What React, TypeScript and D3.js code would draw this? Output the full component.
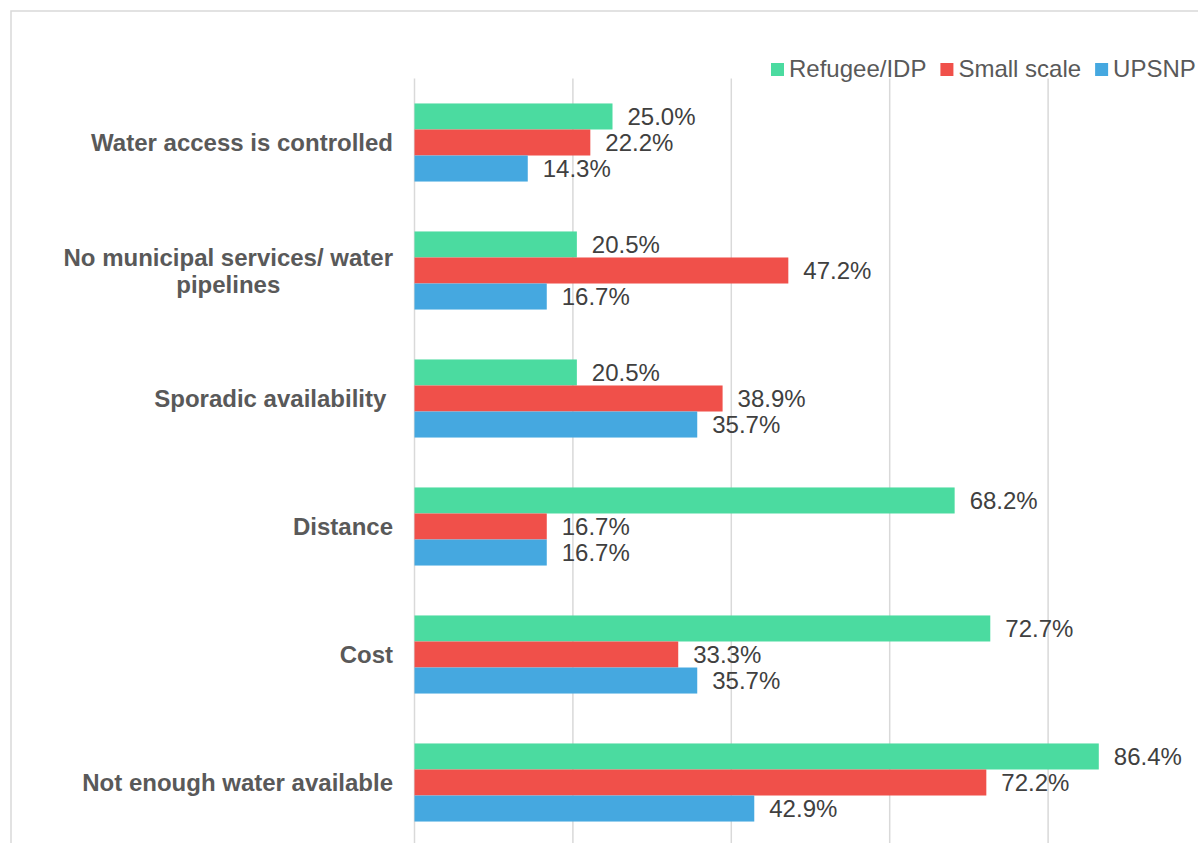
import React from "react";
import * as d3 from "d3";

const categories: string[][] = [
  ["Water access is controlled"],
  ["No municipal services/ water", "pipelines"],
  ["Sporadic availability "],
  ["Distance"],
  ["Cost"],
  ["Not enough water available"],
];
const seriesNames = ["Refugee/IDP", "Small scale", "UPSNP"];
const refugee = [25.0, 20.5, 20.5, 68.2, 72.7, 86.4];
const smallScale = [22.2, 47.2, 38.9, 16.7, 33.3, 72.2];
const upsnp = [14.3, 16.7, 35.7, 16.7, 35.7, 42.9];
const gridTicks = [0, 20, 40, 60, 80];
const colors = ["#4BDBA0", "#F0504A", "#45A8E0"];

const FONT = "'Liberation Sans', Arial, sans-serif";

function measure(text: string, font: string): number {
  const c = document.createElement("canvas");
  const ctx = c.getContext("2d")!;
  ctx.font = font;
  return ctx.measureText(text).width;
}

export default function App() {
  const W = 1198;
  const H = 843;
  const series = [refugee, smallScale, upsnp];
  const keys = categories.map((c) => c.join(" "));

  const x = d3.scaleLinear().domain([0, 100]).range([414.5, 1206.5]);
  const y = d3
    .scaleBand<string>()
    .domain(keys)
    .range([78.5, 846.5])
    .paddingInner(0.39)
    .paddingOuter(0.195);
  const yi = d3
    .scaleBand<number>()
    .domain([0, 1, 2])
    .range([0, y.bandwidth()]);

  const labelRight = 393;
  const catFont = `bold 24px ${FONT}`;

  // legend layout
  const legendStart = 771;
  const legendItems: { x: number; name: string; color: string }[] = [];
  let lx = legendStart;
  seriesNames.forEach((n, i) => {
    legendItems.push({ x: lx, name: n, color: colors[i] });
    lx += 18 + measure(n, `24px ${FONT}`) + 14;
  });

  return (
    <svg
      width={W}
      height={H}
      style={{ position: "absolute", left: 0, top: 0, background: "#fff" }}
      fontFamily={FONT}
    >
      <rect x={0} y={0} width={W} height={H} fill="#fff" />
      <rect
        x={11}
        y={11}
        width={1300}
        height={1000}
        fill="none"
        stroke="#d9d9d9"
        strokeWidth={1.5}
      />
      {/* gridlines */}
      {gridTicks.map((t) => (
        <line
          key={t}
          x1={x(t)}
          x2={x(t)}
          y1={78.5}
          y2={H}
          stroke="#d9d9d9"
          strokeWidth={1.5}
        />
      ))}
      {/* bars */}
      {keys.map((k, ci) => (
        <g key={k} transform={`translate(0,${y(k)})`}>
          {series.map((s, si) => {
            const v = s[ci];
            const by = yi(si)!;
            const bh = yi.bandwidth();
            return (
              <g key={si}>
                <rect
                  x={x(0)}
                  y={by}
                  width={x(v) - x(0)}
                  height={bh}
                  fill={colors[si]}
                />
                <text
                  x={x(v) + 15}
                  y={by + bh / 2 + 8.5}
                  fontSize={24}
                  fill="#404040"
                >
                  {v.toFixed(1) + "%"}
                </text>
              </g>
            );
          })}
        </g>
      ))}
      {/* category labels */}
      {categories.map((lines, ci) => {
        const cy = y(keys[ci])! + y.bandwidth() / 2;
        const widths = lines.map((l) => measure(l, catFont));
        const maxW = Math.max(...widths);
        const lh = 27;
        const first = cy + 8.5 - ((lines.length - 1) * lh) / 2;
        return (
          <text
            key={ci}
            fontSize={24}
            fontWeight="bold"
            fill="#595959"
            textAnchor={lines.length > 1 ? "middle" : "end"}
            style={{ whiteSpace: "pre" }}
          >
            {lines.map((l, li) => (
              <tspan
                key={li}
                x={lines.length > 1 ? labelRight - maxW / 2 : labelRight}
                y={first + li * lh}
              >
                {l}
              </tspan>
            ))}
          </text>
        );
      })}
      {/* legend */}
      {legendItems.map((it) => (
        <g key={it.name}>
          <rect x={it.x} y={63} width={13} height={13} fill={it.color} />
          <text x={it.x + 18} y={77} fontSize={24} fill="#595959">
            {it.name}
          </text>
        </g>
      ))}
    </svg>
  );
}
